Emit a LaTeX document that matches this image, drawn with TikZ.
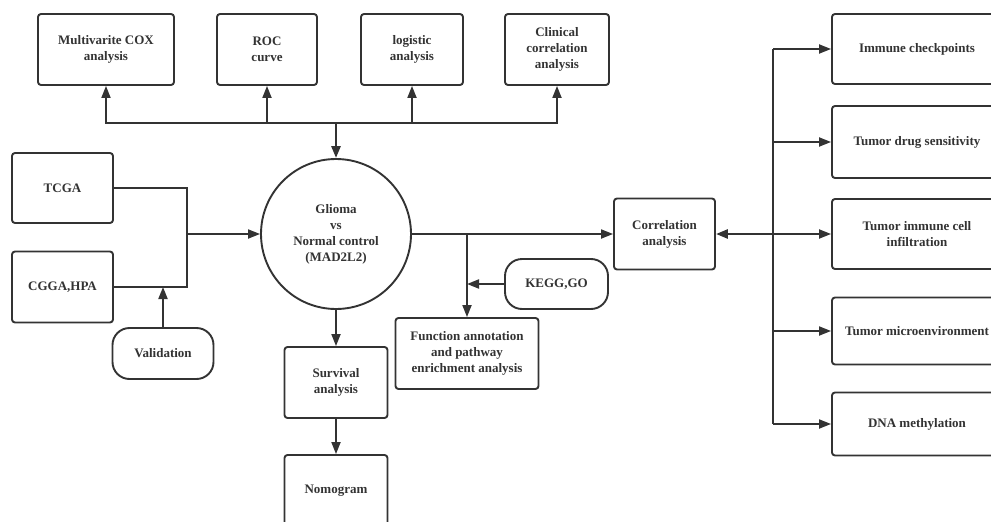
\documentclass[tikz,border=0pt]{standalone}
\usepackage{fontspec}
\setmainfont{Liberation Serif}
\usetikzlibrary{arrows.meta}
\definecolor{ink}{HTML}{333333}
\begin{document}
\begin{tikzpicture}[x=1pt,y=-1pt,
  every node/.style={font=\bfseries\fontsize{13}{16}\selectfont, text=ink, align=center},
  box/.style={draw=ink, line width=1.9pt, rounded corners=3pt, inner sep=0pt},
  pill/.style={draw=ink, line width=1.9pt, rounded corners=17pt, inner sep=0pt},
  ln/.style={draw=ink, line width=1.9pt},
  arr/.style={draw=ink, line width=1.9pt, -{Triangle[length=12pt,width=9pt]}},
  heavy/.style={line width=2.6pt}]
\clip (0,0) rectangle (991,522);
\fill[white] (0,0) rectangle (991,522);
% top row
\node[box,minimum width=136pt,minimum height=71pt] (cox) at (106,49.5) {Multivarite COX\\analysis};
\node[box,minimum width=100pt,minimum height=71pt] (roc) at (267,49.5) {ROC\\curve};
\node[box,minimum width=102pt,minimum height=71pt] (logi) at (412,49.5) {logistic\\analysis};
\node[box,minimum width=104pt,minimum height=71pt] (clin) at (557,49.5) {Clinical\\correlation\\analysis};
% left
\node[box,minimum width=101pt,minimum height=70pt] (tcga) at (62.5,188) {TCGA};
\node[box,minimum width=101pt,minimum height=71pt] (cgga) at (62.5,287) {CGGA,HPA};
\node[pill,minimum width=101pt,minimum height=51pt] (valid) at (163,353.5) {Validation};
% centre
\node[circle,draw=ink,line width=1.9pt,minimum size=150pt,inner sep=0pt] (circ) at (336,234) {Glioma\\vs\\Normal control\\(MAD2L2)};
\node[box,minimum width=103pt,minimum height=71pt] (surv) at (336,382.5) {Survival\\analysis};
\node[box,minimum width=103pt,minimum height=71pt] (nomo) at (336,490.5) {Nomogram};
\node[box,minimum width=143pt,minimum height=71pt] (func) at (467,353.5) {Function annotation\\and pathway\\enrichment analysis};
\node[pill,minimum width=103pt,minimum height=50pt] (kegg) at (556.5,284) {KEGG,GO};
\node[box,minimum width=101pt,minimum height=71pt] (corr) at (664.5,234) {Correlation\\analysis};
% right column
\node[box,minimum width=170pt,minimum height=70pt] (imm) at (917,49) {Immune checkpoints};
\node[box,minimum width=170pt,minimum height=72pt] (drug) at (917,142) {Tumor drug sensitivity};
\node[box,minimum width=170pt,minimum height=70pt] (tic) at (917,234) {Tumor immune cell\\infiltration};
\node[box,minimum width=170pt,minimum height=67pt] (tme) at (917,331) {Tumor microenvironment};
\node[box,minimum width=170pt,minimum height=63pt] (dna) at (917,424) {DNA methylation};
% junctions
\coordinate (bus) at (336,123);
\coordinate (jn) at (187,234);
\coordinate (fb) at (467,234);
\coordinate (vb) at (773,234);
% connectors
\draw[arr,heavy] (bus) -- (circ.north);
\draw[arr] (bus) -| (cox.south);
\draw[arr] (bus) -| (roc.south);
\draw[arr] (bus) -| (logi.south);
\draw[arr] (bus) -| (clin.south);
\draw[ln] (tcga.east) -| (jn);
\draw[ln] (cgga.east) -| (jn);
\draw[arr] (jn) -- (circ.west);
\draw[arr] (valid.north) -- (valid.north |- cgga.east);
\draw[arr] (circ.south) -- (surv.north);
\draw[arr] (surv.south) -- (nomo.north);
\draw[arr] (circ.east) -- (corr.west);
\draw[arr] (fb) -- (fb |- func.north);
\draw[arr] (kegg.west) -- (kegg.west -| fb);
\draw[arr,heavy] (vb) -- (corr.east);
\draw[ln] (vb |- imm.west) -- (vb |- dna.west);
\draw[arr] (vb |- imm.west) -- (imm.west);
\draw[arr] (vb |- drug.west) -- (drug.west);
\draw[arr] (vb) -- (tic.west);
\draw[arr] (vb |- tme.west) -- (tme.west);
\draw[arr] (vb |- dna.west) -- (dna.west);
\end{tikzpicture}
\end{document}
